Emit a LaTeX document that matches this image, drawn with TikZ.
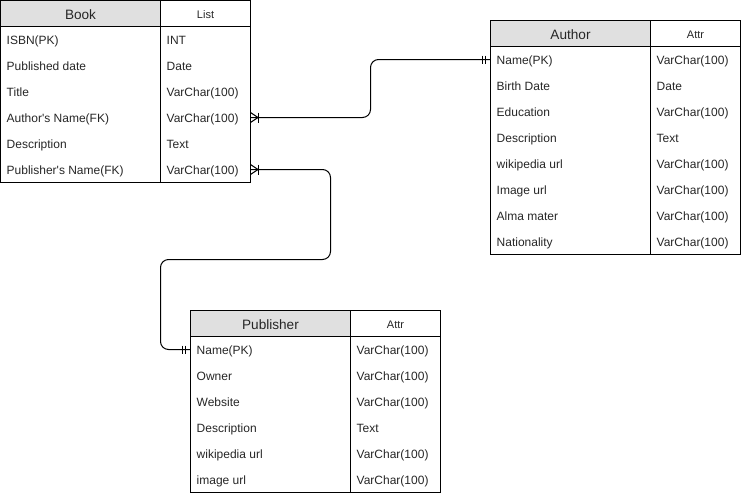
\documentclass[tikz,border=0pt]{standalone}
\usepackage{fontspec}
\setmainfont{Liberation Sans}
\definecolor{headgray}{HTML}{E0E0E0}
\definecolor{ink}{HTML}{262626}
\begin{document}
\begin{tikzpicture}[x=1pt,y=-1pt,
  frame/.style={draw=black, line width=1pt, inner sep=0pt, outer sep=0pt, anchor=north west},
  rule/.style={draw=black, line width=1pt},
  slot/.style={inner sep=0pt, outer sep=0pt, minimum width=250pt, minimum height=26pt},
  title/.style={anchor=base, text=ink, inner sep=0pt, font=\fontsize{13.6}{16}\selectfont},
  kind/.style={anchor=base, text=ink, inner sep=0pt, font=\fontsize{11}{13}\selectfont},
  field/.style={anchor=base west, text=ink, inner sep=0pt, font=\fontsize{12}{14}\selectfont},
  rel/.style={draw=black, line width=1pt, rounded corners=8pt},
  endmark/.style={draw=black, line width=1pt}
]
\path[use as bounding box] (0,0) rectangle (741,496);

% ---------- Book ----------
\begin{scope}[shift={(0.5,0.5)}]
  \fill[headgray] (0,0) rectangle (160,26);
  \node[frame, minimum width=250pt, minimum height=182pt] (book) at (0,0) {};
  \draw[rule] (0,26) -- (250,26) (160,0) -- (160,182);
  \node[title] (book-name) at (80,18.5) {Book};
  \node[kind] (book-kind) at (205,17.8) {List};
  \foreach \n/\t [count=\i] in {{ISBN(PK)}/{INT},{Published date}/{Date},{Title}/{VarChar(100)},{Author\textquotesingle s Name(FK)}/{VarChar(100)},{Description}/{Text},{Publisher\textquotesingle s Name(FK)}/{VarChar(100)}}{
    \node[slot] (book-r\i) at (125,{13+26*\i}) {};
    \node[field] (book-f\i) at (6,{18+26*\i}) {\n};
    \node[field] (book-t\i) at (166,{18+26*\i}) {\t};
  }
\end{scope}

% ---------- Author ----------
\begin{scope}[shift={(490.5,20.5)}]
  \fill[headgray] (0,0) rectangle (160,26);
  \node[frame, minimum width=250pt, minimum height=234pt] (author) at (0,0) {};
  \draw[rule] (0,26) -- (250,26) (160,0) -- (160,234);
  \node[title] (author-name) at (80,18.5) {Author};
  \node[kind] (author-kind) at (205,17.8) {Attr};
  \foreach \n/\t [count=\i] in {{Name(PK)}/{VarChar(100)},{Birth Date}/{Date},{Education}/{VarChar(100)},{Description}/{Text},{wikipedia url}/{VarChar(100)},{Image url}/{VarChar(100)},{Alma mater}/{VarChar(100)},{Nationality}/{VarChar(100)}}{
    \node[slot] (author-r\i) at (125,{13+26*\i}) {};
    \node[field] (author-f\i) at (6,{18+26*\i}) {\n};
    \node[field] (author-t\i) at (166,{18+26*\i}) {\t};
  }
\end{scope}

% ---------- Publisher ----------
\begin{scope}[shift={(190.5,310.5)}]
  \fill[headgray] (0,0) rectangle (160,26);
  \node[frame, minimum width=250pt, minimum height=182pt] (publisher) at (0,0) {};
  \draw[rule] (0,26) -- (250,26) (160,0) -- (160,182);
  \node[title] (publisher-name) at (80,18.5) {Publisher};
  \node[kind] (publisher-kind) at (205,17.8) {Attr};
  \foreach \n/\t [count=\i] in {{Name(PK)}/{VarChar(100)},{Owner}/{VarChar(100)},{Website}/{VarChar(100)},{Description}/{Text},{wikipedia url}/{VarChar(100)},{image url}/{VarChar(100)}}{
    \node[slot] (publisher-r\i) at (125,{13+26*\i}) {};
    \node[field] (publisher-f\i) at (6,{18+26*\i}) {\n};
    \node[field] (publisher-t\i) at (166,{18+26*\i}) {\t};
  }
\end{scope}

% ---------- relationships ----------
\coordinate (bend1) at (370.5,0);
\coordinate (bend2) at (330.5,259.5);
\coordinate (bend3) at (160.5,259.5);

% Book.Author's Name  >|---||  Author.Name
\draw[rel] (book-r4.east) -- (book-r4.east -| bend1) |- (author-r1.west);
% Book.Publisher's Name  >|---||  Publisher.Name
\draw[rel] (book-r6.east) -| (bend2) -- (bend3) |- (publisher-r1.west);

% one-or-many ends
\foreach \r in {book-r4, book-r6}{
  \draw[endmark] ([yshift=5pt]\r.east) -- ([xshift=7.5pt]\r.east) -- ([yshift=-5pt]\r.east);
  \draw[endmark] ([xshift=8pt,yshift=5pt]\r.east) -- ([xshift=8pt,yshift=-5pt]\r.east);
}
% exactly-one ends
\foreach \r in {author-r1, publisher-r1}{
  \draw[endmark] ([xshift=-8pt,yshift=4pt]\r.west) -- ([xshift=-8pt,yshift=-4pt]\r.west);
  \draw[endmark] ([xshift=-5pt,yshift=4pt]\r.west) -- ([xshift=-5pt,yshift=-4pt]\r.west);
}
\end{tikzpicture}
\end{document}
